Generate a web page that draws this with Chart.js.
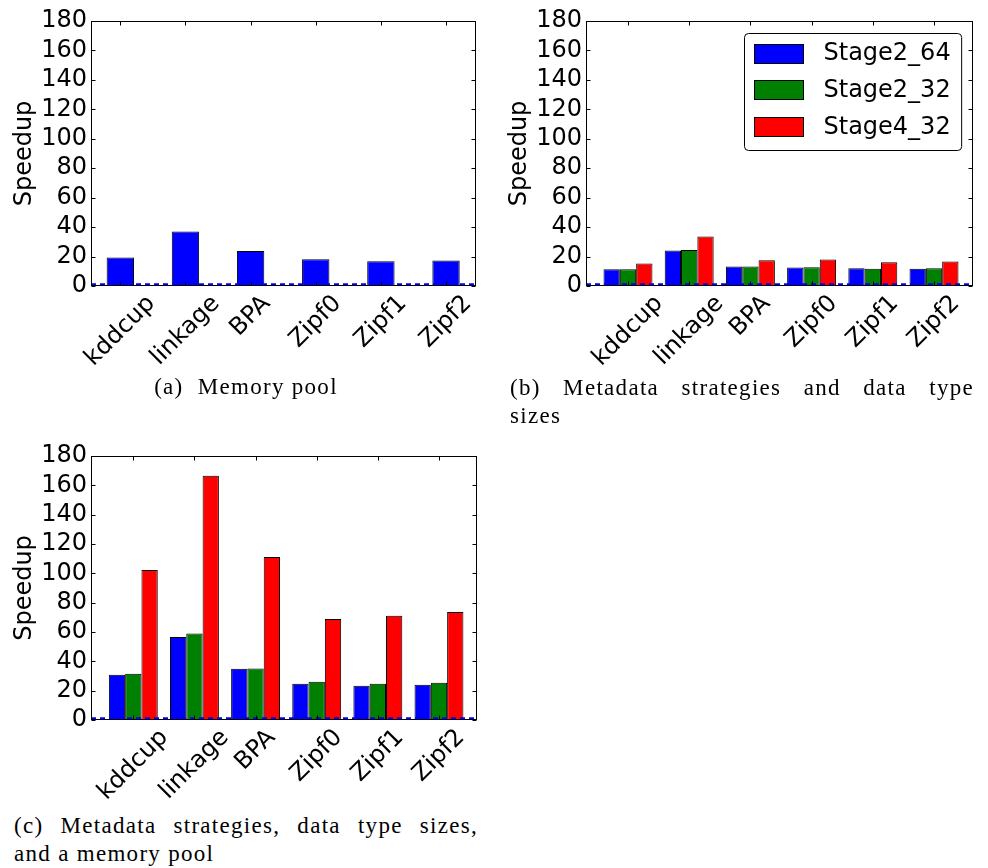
<!DOCTYPE html>
<html>
<head>
<meta charset="utf-8">
<script src="https://cdn.jsdelivr.net/npm/chart.js@4.4.1/dist/chart.umd.min.js"></script>
<style>
  body { margin: 0; background: #fff; width: 988px; height: 868px; position: relative; overflow: hidden; }
  .panel { position: absolute; width: 493px; height: 375px; }
  .caption { position: absolute; font-family: 'Liberation Serif', serif; font-size: 23px; line-height: 28px; letter-spacing: 1.3px; color: #000; }
  .caption .just { text-align: justify; text-align-last: justify; }
</style>
</head>
<body>
<canvas id="chart-a" class="panel" width="493" height="375" style="left:0;top:0"></canvas>
<canvas id="chart-b" class="panel" width="493" height="375" style="left:495px;top:0"></canvas>
<canvas id="chart-c" class="panel" width="493" height="375" style="left:0;top:435px"></canvas>

<div class="caption" style="left:0;top:373px;width:492px;text-align:center">(a)&nbsp; Memory pool</div>
<div class="caption" style="left:510px;top:374px;width:464px">
  <div class="just">(b) Metadata strategies and data type</div>
  <div>sizes</div>
</div>
<div class="caption" style="left:14px;top:812px;width:464px">
  <div class="just">(c) Metadata strategies, data type sizes,</div>
  <div>and a memory pool</div>
</div>

<script>
// --- DATA ---
const CATEGORIES = ['kddcup', 'linkage', 'BPA', 'Zipf0', 'Zipf1', 'Zipf2'];
const SERIES_NAMES = ['Stage2_64', 'Stage2_32', 'Stage4_32'];

// (a) memory pool only
const MEMPOOL = [19.3, 37.0, 23.8, 18.2, 16.8, 17.3];

// (b) metadata strategies and data type sizes
const META_STAGE2_64 = [11.4, 24.1, 13.2, 12.5, 12.0, 11.8];
const META_STAGE2_32 = [11.3, 24.5, 13.2, 12.7, 11.8, 12.0];
const META_STAGE4_32 = [15.2, 33.6, 17.5, 18.0, 16.1, 16.6];

// (c) metadata strategies, data type sizes and memory pool
const POOL_STAGE2_64 = [30.9, 56.6, 34.9, 24.7, 23.4, 24.0];
const POOL_STAGE2_32 = [31.6, 58.9, 35.1, 26.1, 24.7, 25.4];
const POOL_STAGE4_32 = [102.3, 166.6, 111.1, 68.9, 71.0, 73.7];

const Y_MIN = 0;
const Y_MAX = 180;
const Y_STEP = 20;
const BASELINE = 1; // speedup of 1 (dashed line)

const COLORS = ['#0000ff', '#008000', '#ff0000'];
const FONT = '"DejaVu Sans", sans-serif';

Chart.defaults.font.family = FONT;
Chart.defaults.color = '#000';

// --- matplotlib-like frame, inward ticks, rotated labels, legend ---
const mplAxes = {
    id: 'mplAxes',
    afterDatasetsDraw(chart, args, opts) {
        const { ctx, chartArea: a, scales: { x, y } } = chart;
        ctx.save();

        // dashed baseline at speedup 1
        const yb = y.getPixelForValue(BASELINE);
        ctx.strokeStyle = '#0000ff';
        ctx.lineWidth = 2.5;
        ctx.setLineDash([5, 4]);
        ctx.beginPath();
        ctx.moveTo(a.left, yb);
        ctx.lineTo(a.right, yb);
        ctx.stroke();
        ctx.setLineDash([]);

        // box
        const L = Math.round(a.left) + 0.5, R = Math.round(a.right) - 0.5;
        const T = Math.round(a.top) + 0.5, B = Math.round(a.bottom) - 0.5;
        ctx.strokeStyle = '#000';
        ctx.lineWidth = 1;
        ctx.strokeRect(L, T, R - L, B - T);

        // inward ticks
        const tl = 4;
        ctx.beginPath();
        y.ticks.forEach(t => {
            const py = Math.round(y.getPixelForValue(t.value)) + 0.5;
            ctx.moveTo(L, py); ctx.lineTo(L + tl, py);
            ctx.moveTo(R, py); ctx.lineTo(R - tl, py);
        });
        x.ticks.forEach(t => {
            const px = Math.round(x.getPixelForValue(t.value)) + 0.5;
            ctx.moveTo(px, T); ctx.lineTo(px, T + tl);
            ctx.moveTo(px, B); ctx.lineTo(px, B - tl);
        });
        ctx.stroke();

        // x labels rotated 45deg, centred on the tick
        const fs = 24;
        ctx.font = `${fs}px ${FONT}`;
        ctx.fillStyle = '#000';
        ctx.textAlign = 'center';
        ctx.textBaseline = 'middle';
        x.ticks.forEach(t => {
            const label = CATEGORIES[t.value];
            const w = ctx.measureText(label).width;
            const side = (w + fs * 1.05) / Math.SQRT2;
            const px = x.getPixelForValue(t.value);
            const cy = a.bottom + 5 + side / 2;
            ctx.save();
            ctx.translate(px, cy);
            ctx.rotate(-Math.PI / 4);
            ctx.fillText(label, 0, 0);
            ctx.restore();
        });

        // legend (upper right, inside the axes)
        if (opts.legend) {
            const sets = chart.data.datasets;
            const textW = Math.max(...sets.map(d => ctx.measureText(d.label).width));
            const padL = 10, patchW = 49, patchH = 19, gap = 20, padR = 11;
            const rowH = 36.7, firstRow = 19.6;
            const boxW = padL + patchW + gap + textW + padR;
            const boxH = firstRow + rowH * (sets.length - 1) + 24;
            const bx = Math.round(a.right - 12 - boxW) + 0.5;
            const by = Math.round(a.top + 12) + 0.5;
            ctx.fillStyle = '#fff';
            ctx.strokeStyle = '#000';
            ctx.beginPath();
            ctx.roundRect(bx, by, boxW, boxH, 4);
            ctx.fill();
            ctx.stroke();
            ctx.textAlign = 'left';
            sets.forEach((d, i) => {
                const cy = by + firstRow + i * rowH;
                ctx.fillStyle = d.backgroundColor;
                ctx.fillRect(bx + padL, Math.round(cy - patchH / 2), patchW, patchH);
                ctx.strokeRect(bx + padL, Math.round(cy - patchH / 2) + 0.5, patchW, patchH);
                ctx.fillStyle = '#000';
                ctx.fillText(d.label, bx + padL + patchW + gap, cy + 1);
            });
        }
        ctx.restore();
    }
};

function makePanel(canvasId, seriesList, opts) {
    const datasets = seriesList.map((values, i) => ({
        label: SERIES_NAMES[i],
        data: values.map((v, k) => ({ x: k, y: v })),
        backgroundColor: COLORS[i],
        borderColor: '#000',
        borderWidth: 1,
        borderSkipped: 'start'
    }));

    return new Chart(document.getElementById(canvasId), {
        type: 'bar',
        data: { datasets },
        options: {
            responsive: false,
            animation: false,
            devicePixelRatio: 1,
            layout: { padding: { top: 21, right: opts.padRight, left: 0, bottom: 0 } },
            datasets: {
                bar: { categoryPercentage: opts.catPct, barPercentage: opts.barPct }
            },
            plugins: {
                legend: { display: false },
                tooltip: { enabled: false },
                mplAxes: { legend: opts.legend }
            },
            scales: {
                x: {
                    type: 'linear',
                    offset: false,
                    min: opts.xMin,
                    max: opts.xMax,
                    afterBuildTicks: s => { s.ticks = CATEGORIES.map((_, i) => ({ value: i })); },
                    afterFit: s => { s.height = 375 - opts.bottom; },
                    ticks: { display: false },
                    grid: { display: false, drawTicks: false },
                    border: { display: false }
                },
                y: {
                    min: Y_MIN,
                    max: Y_MAX,
                    afterFit: s => { s.width = 91; },
                    ticks: { stepSize: Y_STEP, autoSkip: false, padding: 4, font: { size: 24 }, color: '#000' },
                    grid: { display: false, drawTicks: false },
                    border: { display: false },
                    title: {
                        display: true,
                        text: 'Speedup',
                        font: { size: 24 },
                        color: '#000',
                        padding: { top: 10, bottom: 0 }
                    }
                }
            }
        },
        plugins: [mplAxes]
    });
}

makePanel('chart-a', [MEMPOOL], {
    padRight: 17, bottom: 286, xMin: -0.45, xMax: 5.46, catPct: 1, barPct: 0.42, legend: false
});
makePanel('chart-b', [META_STAGE2_64, META_STAGE2_32, META_STAGE4_32], {
    padRight: 15, bottom: 286, xMin: -0.686, xMax: 5.637, catPct: 0.8, barPct: 1, legend: true
});
makePanel('chart-c', [POOL_STAGE2_64, POOL_STAGE2_32, POOL_STAGE4_32], {
    padRight: 16, bottom: 285, xMin: -0.692, xMax: 5.622, catPct: 0.8, barPct: 1, legend: false
});
</script>
</body>
</html>
